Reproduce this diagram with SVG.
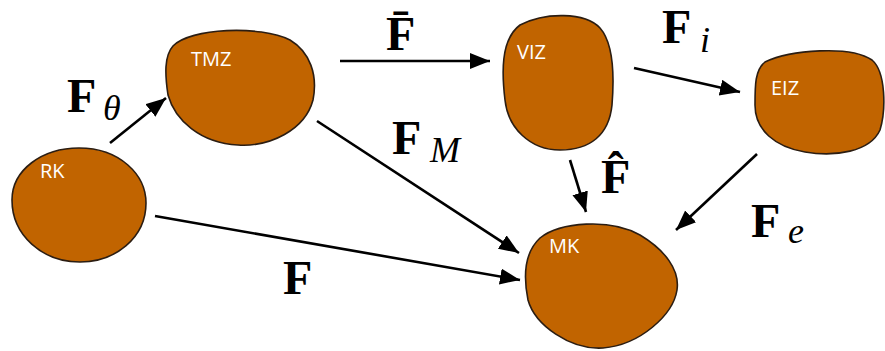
<svg xmlns="http://www.w3.org/2000/svg" width="885" height="351" viewBox="0 0 885 351">
<style>
.blob{fill:#C16400;stroke:#2b1d12;stroke-width:1.6}
.nl{font-family:"Open Sans","Liberation Sans",sans-serif;font-size:20px;fill:#fff}
.conn{stroke:#000;stroke-width:2.6;fill:none;marker-end:url(#ah)}
.F{font-family:"Liberation Serif","DejaVu Serif",serif;font-weight:bold;font-size:48px;fill:#000}
.sub{font-family:"Liberation Serif","DejaVu Serif",serif;font-style:italic;font-size:36px;fill:#000}
</style>
<defs>
<marker id="ah" markerUnits="userSpaceOnUse" markerWidth="22" markerHeight="18" refX="20" refY="8" orient="auto">
<path d="M0,0 L20,8 L0,16 Z" fill="#000"/>
</marker>
</defs>
<rect width="885" height="351" fill="#fff"/>
<g id="RK">
<path class="blob" d="M79 148 C120 148 146 175 146 203 C146 238 115 262 80 262 C42 262 12 235 12 200 C12 170 42 148 79 148 Z"/>
<text class="nl" x="40" y="178">RK</text>
</g>
<g id="TMZ">
<path class="blob" d="M173 46 C190 28 260 25 290 40 C310 52 318 75 313 100 C305 130 270 147 238 145 C200 143 175 120 168 95 C165 75 164 56 173 46 Z"/>
<text class="nl" x="191" y="66">TMZ</text>
</g>
<g id="VIZ">
<path class="blob" d="M520 25 C545 12 585 12 600 28 C615 45 614 80 612 105 C609 135 590 150 560 150 C530 150 508 128 505 100 C502 75 500 40 520 25 Z"/>
<text class="nl" x="517" y="59">VIZ</text>
</g>
<g id="EIZ">
<path class="blob" d="M765 62 C790 50 850 45 872 60 C886 72 886 110 880 130 C870 152 835 157 805 152 C775 147 755 130 755 105 C755 85 755 70 765 62 Z"/>
<text class="nl" x="771" y="95">EIZ</text>
</g>
<g id="MK">
<path class="blob" d="M540 238 C560 222 610 218 640 235 C665 250 680 270 677 290 C673 315 640 345 603 348 C570 350 535 325 528 300 C523 275 525 252 540 238 Z"/>
<text class="nl" x="549" y="253">MK</text>
</g>
<g id="connectors">
<line class="conn" x1="110" y1="143" x2="166" y2="98"/>
<line class="conn" x1="340" y1="61" x2="490" y2="61"/>
<line class="conn" x1="634" y1="68" x2="740" y2="92"/>
<line class="conn" x1="317" y1="121" x2="519" y2="253"/>
<line class="conn" x1="155" y1="216" x2="520" y2="280"/>
<line class="conn" x1="570" y1="160" x2="586" y2="212"/>
<line class="conn" x1="757" y1="154" x2="676" y2="230"/>
</g>
<g id="labels">
<text class="F" x="67" y="112">F</text><text class="sub" x="103" y="120">θ</text>
<text class="F" x="386" y="50">F&#x304;</text>
<text class="F" x="662" y="43">F</text><text class="sub" x="700" y="52">i</text>
<text class="F" x="392" y="154">F</text><text class="sub" x="430" y="162">M</text>
<text class="F" x="601" y="193">F&#x302;</text>
<text class="F" x="751" y="237">F</text><text class="sub" x="788" y="243">e</text>
<text class="F" x="283" y="294">F</text>
</g>
</svg>
